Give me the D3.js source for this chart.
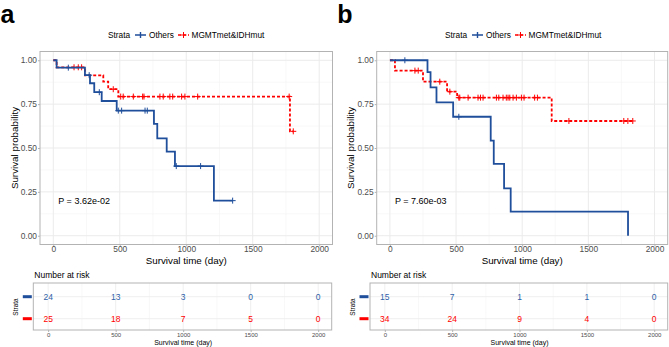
<!DOCTYPE html>
<html>
<head>
<meta charset="utf-8">
<script src="https://cdn.jsdelivr.net/npm/d3@7"></script>
<style>
  body { margin: 0; background: #fff; }
  svg { display: block; font-family: "Liberation Sans", Arial, sans-serif; }
</style>
</head>
<body>
<svg id="chart" width="669" height="347"></svg>
<script>
// 軸刻度
const xTicks = [0, 500, 1000, 1500, 2000];
const yTicks = [0, 0.25, 0.5, 0.75, 1];
const strata = ["Others", "MGMTmet&IDHmut"];

// panel a: step points [time, survival]
const aOthersSteps = [[0, 1], [25, 0.958], [238, 0.915], [276, 0.869], [308, 0.818], [364, 0.768],
    [477, 0.713], [757, 0.637], [782, 0.555], [853, 0.479], [915, 0.397], [1208, 0.2]];
const aOthersEnd = 1349;
const aOthersCensor = [113, 270, 346, 489, 514, 690, 707, 925, 1108, 1349];
const aMgmtSteps = [[0, 1], [25, 0.96], [238, 0.914], [376, 0.878], [413, 0.835], [489, 0.793], [1780, 0.595]];
const aMgmtEnd = 1805;
const aMgmtCensor = [156, 188, 213, 451, 507, 526, 602, 672, 682, 802, 827, 877, 898, 965, 990, 1086, 1774, 1805];
const aRiskOthers = [24, 13, 3, 0, 0];
const aRiskMgmt = [25, 18, 7, 5, 0];

// panel b
const bOthersSteps = [[0, 1], [284, 0.933], [307, 0.846], [352, 0.76], [478, 0.678], [762, 0.542],
    [785, 0.409], [863, 0.27], [913, 0.137], [1800, 0]];
const bOthersEnd = 1800;
const bOthersCensor = [113, 521];
const bMgmtSteps = [[0, 1], [38, 0.941], [250, 0.878], [432, 0.821], [508, 0.787], [1223, 0.654]];
const bMgmtEnd = 1837;
const bMgmtCensor = [189, 214, 377, 453, 521, 528, 591, 666, 685, 704, 805, 823, 855, 880, 893, 906,
    931, 956, 994, 1014, 1094, 1115, 1353, 1768, 1799, 1836];
const bRiskOthers = [15, 7, 1, 1, 0];
const bRiskMgmt = [34, 24, 9, 4, 0];

const blue = "#1f4e9b";
const red = "#ff0000";
const grid = "#ebebeb";
const border = "#b3b3b3";
const font = "'Liberation Sans', Arial, sans-serif";

const svg = d3.select("#chart");

// 找出某時間點的存活率
function survAt(steps, t) {
    let s = steps[0][1];
    steps.forEach(d => { if (d[0] <= t) s = d[1]; });
    return s;
}

function drawCensor(g, x, y, steps, times, color) {
    const pts = times.map(t => [x(t), y(survAt(steps, t))]);
    g.selectAll(null).data(pts).enter().append("path")
        .attr("d", d => `M${d[0] - 3},${d[1]}H${d[0] + 3}M${d[0]},${d[1] - 3}V${d[1] + 3}`)
        .attr("stroke", color).attr("stroke-width", 1).attr("fill", "none");
}

function drawPanel(p) {
    const g = svg.append("g");
    const x = d3.scaleLinear().domain([-100, 2100]).range([p.left, p.right]);
    const y = d3.scaleLinear().domain([-0.05, 1.05]).range([244.5, 51.5]);

    // 格線 (minor + major)
    const xMinor = [250, 750, 1250, 1750];
    const yMinor = [0.125, 0.375, 0.625, 0.875];
    g.selectAll(null).data(xMinor).enter().append("line")
        .attr("x1", d => x(d)).attr("x2", d => x(d)).attr("y1", 51.5).attr("y2", 244.5)
        .attr("stroke", "#f3f3f3").attr("stroke-width", 0.6);
    g.selectAll(null).data(yMinor).enter().append("line")
        .attr("x1", p.left).attr("x2", p.right).attr("y1", d => y(d)).attr("y2", d => y(d))
        .attr("stroke", "#f3f3f3").attr("stroke-width", 0.6);
    g.selectAll(null).data(xTicks).enter().append("line")
        .attr("x1", d => x(d)).attr("x2", d => x(d)).attr("y1", 51.5).attr("y2", 244.5)
        .attr("stroke", grid).attr("stroke-width", 1);
    g.selectAll(null).data(yTicks).enter().append("line")
        .attr("x1", p.left).attr("x2", p.right).attr("y1", d => y(d)).attr("y2", d => y(d))
        .attr("stroke", grid).attr("stroke-width", 1);

    // 曲線
    const line = d3.line().x(d => x(d[0])).y(d => y(d[1])).curve(d3.curveStepAfter);
    const series = [
        { steps: p.mgmtSteps, end: p.mgmtEnd, censor: p.mgmtCensor, color: red, dash: "3,2" },
        { steps: p.othersSteps, end: p.othersEnd, censor: p.othersCensor, color: blue, dash: null }
    ];
    series.forEach(s => {
        const pts = s.steps.concat([[s.end, s.steps[s.steps.length - 1][1]]]);
        g.append("path").datum(pts)
            .attr("fill", "none").attr("stroke", s.color).attr("stroke-width", 1.8)
            .attr("stroke-dasharray", s.dash)
            .attr("d", line);
        drawCensor(g, x, y, s.steps, s.censor, s.color);
    });

    // 邊框
    g.append("rect").attr("x", p.left).attr("y", 51.5)
        .attr("width", p.right - p.left).attr("height", 193)
        .attr("fill", "none").attr("stroke", border).attr("stroke-width", 1);

    // 軸
    const ax = g.append("g").attr("transform", "translate(0,244.5)")
        .call(d3.axisBottom(x).tickValues(xTicks).tickFormat(d3.format("d")).tickSize(2).tickPadding(0));
    const ay = g.append("g").attr("transform", `translate(${p.left},0)`)
        .call(d3.axisLeft(y).tickValues(yTicks).tickFormat(d3.format(".2f")).tickSize(2).tickPadding(1));
    [ax, ay].forEach(a => {
        a.select(".domain").remove();
        a.selectAll(".tick line").attr("stroke", border);
        a.selectAll("text").attr("fill", "#4d4d4d").style("font-size", "8.4px").style("font-family", font);
    });

    g.append("text").attr("x", (p.left + p.right) / 2).attr("y", 263.5)
        .attr("text-anchor", "middle").style("font-size", "9.8px").text("Survival time (day)");
    g.append("text").attr("transform", `translate(${p.left - 22.5},148) rotate(-90)`)
        .attr("text-anchor", "middle").style("font-size", "9.8px").text("Survival probability");

    g.append("text").attr("x", x(0) + 5).attr("y", 204)
        .style("font-size", "9px").text(p.pval);

    // 標籤 a / b
    g.append("text").attr("x", p.left - 39.5).attr("y", 22.5)
        .style("font-size", "25px").style("font-weight", "bold").text(p.label);

    // 圖例
    const lg = g.append("g").attr("transform", `translate(${p.legendX},0)`);
    lg.append("text").attr("x", 0).attr("y", 38).style("font-size", "8.3px").text("Strata");
    lg.append("path").attr("d", "M27,35H38M32.5,32V38").attr("stroke", blue).attr("stroke-width", 1.4);
    lg.append("text").attr("x", 41).attr("y", 38).style("font-size", "8.3px").text("Others");
    lg.append("path").attr("d", "M70,35H81").attr("stroke", red).attr("stroke-width", 1.4)
        .attr("stroke-dasharray", "3,2");
    lg.append("path").attr("d", "M72.5,35H78.5M75.5,32V38").attr("stroke", red).attr("stroke-width", 1);
    lg.append("text").attr("x", 83.5).attr("y", 38).style("font-size", "8.3px").text("MGMTmet&IDHmut");

    // 風險表
    const tx = d3.scaleLinear().domain([-110, 2100]).range([p.tLeft, p.tRight]);
    const ty = d3.scalePoint().domain(strata).range([296.7, 318.7]);
    g.append("text").attr("x", p.tLeft + 1).attr("y", 278).style("font-size", "8.5px").text("Number at risk");

    g.selectAll(null).data([250, 750, 1250, 1750]).enter().append("line")
        .attr("x1", d => tx(d)).attr("x2", d => tx(d)).attr("y1", 283).attr("y2", 330)
        .attr("stroke", "#f3f3f3").attr("stroke-width", 0.6);
    g.selectAll(null).data(xTicks).enter().append("line")
        .attr("x1", d => tx(d)).attr("x2", d => tx(d)).attr("y1", 283).attr("y2", 330)
        .attr("stroke", grid).attr("stroke-width", 0.8);
    g.selectAll(null).data(strata).enter().append("line")
        .attr("x1", p.tLeft).attr("x2", p.tRight).attr("y1", d => ty(d)).attr("y2", d => ty(d))
        .attr("stroke", grid).attr("stroke-width", 0.8);

    const rows = [
        { name: "Others", risk: p.riskOthers, color: "#2f5fa8" },
        { name: "MGMTmet&IDHmut", risk: p.riskMgmt, color: red }
    ];
    rows.forEach(r => {
        g.selectAll(null).data(r.risk).enter().append("text")
            .attr("x", (d, i) => tx(xTicks[i])).attr("y", ty(r.name) + 3)
            .attr("text-anchor", "middle").attr("fill", r.color).style("font-size", "8.5px")
            .text(d => d);
        g.append("rect").attr("x", p.tLeft - 10.5).attr("y", ty(r.name) - 1.5)
            .attr("width", 9).attr("height", 3).attr("fill", r.name === "Others" ? blue : red);
    });

    g.append("rect").attr("x", p.tLeft).attr("y", 283)
        .attr("width", p.tRight - p.tLeft).attr("height", 47)
        .attr("fill", "none").attr("stroke", border).attr("stroke-width", 1);

    const tax = g.append("g").attr("transform", "translate(0,330)")
        .call(d3.axisBottom(tx).tickValues(xTicks).tickFormat(d3.format("d")).tickSize(2).tickPadding(0.5));
    tax.select(".domain").remove();
    tax.selectAll(".tick line").attr("stroke", border);
    tax.selectAll("text").attr("fill", "#4d4d4d").style("font-size", "6px").style("font-family", font);

    g.append("text").attr("x", tx(1000)).attr("y", 345.3)
        .attr("text-anchor", "middle").style("font-size", "7px").text("Survival time (day)");
    g.append("text").attr("transform", `translate(${p.tLeft - 15.5},307) rotate(-90)`)
        .attr("text-anchor", "middle").style("font-size", "6.5px").text("Strata");
}

drawPanel({
    label: "a", left: 40, right: 332.5, tLeft: 33.3, tRight: 331.7, legendX: 108,
    othersSteps: aOthersSteps, othersEnd: aOthersEnd, othersCensor: aOthersCensor,
    mgmtSteps: aMgmtSteps, mgmtEnd: aMgmtEnd, mgmtCensor: aMgmtCensor,
    riskOthers: aRiskOthers, riskMgmt: aRiskMgmt, pval: "P = 3.62e-02"
});
drawPanel({
    label: "b", left: 376.7, right: 667.7, tLeft: 370, tRight: 667.7, legendX: 445,
    othersSteps: bOthersSteps, othersEnd: bOthersEnd, othersCensor: bOthersCensor,
    mgmtSteps: bMgmtSteps, mgmtEnd: bMgmtEnd, mgmtCensor: bMgmtCensor,
    riskOthers: bRiskOthers, riskMgmt: bRiskMgmt, pval: "P = 7.60e-03"
});
</script>
</body>
</html>
